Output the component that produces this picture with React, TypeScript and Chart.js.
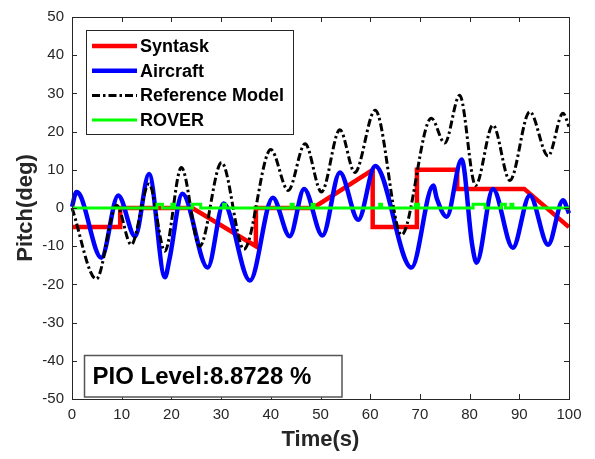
import React, { useEffect, useRef } from "react";
import { Chart, registerables } from "chart.js";

Chart.register(...registerables);

const FONT = "'Liberation Sans', Arial, Helvetica, sans-serif";

// Axis ticks
const xTicks = [0, 10, 20, 30, 40, 50, 60, 70, 80, 90, 100];
const yTicks = [-50, -40, -30, -20, -10, 0, 10, 20, 30, 40, 50];

// Syntask (red)
const syntaskTime = [0, 9.7, 9.7, 24.2, 37, 37, 48.5, 60.5, 60.5, 69.4, 69.4, 77.5, 77.5, 91, 100];
const syntaskPitch = [-5, -5, 0, 0, -10, 0, 0, 10, -5, -5, 10, 10, 5, 5, -5];

// Aircraft (blue)
const aircraftTime = [0, 0.9, 1.7, 5.9, 9.3, 12.7, 15.5, 18.7, 19.6, 22.2, 27.3, 30.5, 35.8, 40.4, 43.8, 46.7, 50.4, 53.9, 57.6, 61, 68.3, 72.7, 73.4, 75.4, 78.4, 80.5, 81.4, 84.7, 88.7, 92.1, 95.8, 98.8, 100];
const aircraftPitch = [0.3, 4.2, 3.2, -13, 3.3, -7.4, 8.9, -18.1, -13.5, 3.7, -15.6, 1.2, -19, 2.7, -7.4, 5, -7.2, 9.3, -3.1, 11, -15.6, 5.9, 2.5, -2.3, 12.7, -9.5, -14.3, 5, -10.4, 3.3, -9.6, 2, -1.4];

// Reference Model (black dash-dot)
const referenceTime = [0, 4.9, 9, 11.9, 15.5, 18.7, 22, 25.7, 30.1, 34.6, 40, 43.5, 46.9, 50.2, 53.9, 56.9, 61, 66.3, 72.3, 75, 78, 81.2, 84.7, 88.1, 92.1, 95.8, 98.8, 100];
const referencePitch = [0, -18.6, 0.7, -9.6, 6.3, -11.3, 10.6, -10, 11.9, -10.8, 15.3, 4.6, 16.8, 4.2, 20.5, 9.3, 25.6, -7, 23.5, 17, 29.5, 5.9, 21.7, 7.2, 25.2, 13.6, 24.8, 21.3];

// ROVER (green)
const roverTime = [0, 17.1, 17.1, 18.2, 18.2, 20.1, 20.1, 20.6, 20.6, 24.2, 24.2, 25.9, 25.9, 30.5, 30.5, 30.9, 30.9, 44.1, 44.1, 44.5, 44.5, 48.3, 48.3, 48.7, 48.7, 61.9, 61.9, 62.3, 62.3, 69.1, 69.1, 69.7, 69.7, 80.7, 80.7, 83.1, 83.1, 86.4, 86.4, 87.2, 87.2, 88.3, 88.3, 88.7, 88.7, 100];
const roverPitch = [0, 0, 1, 1, 0, 0, 1, 1, 0, 0, 1, 1, 0, 0, 1, 1, 0, 0, 1, 1, 0, 0, 1, 1, 0, 0, 1, 1, 0, 0, 1, 1, 0, 0, 1, 1, 0, 0, 1, 1, 0, 0, 1, 1, 0, 0];

const pioText = "PIO Level:8.8728 %";

function toPoints(t: number[], v: number[]) {
  return t.map((x, i) => ({ x, y: v[i] }));
}

const frameAndTicks = {
  id: "frameAndTicks",
  afterDatasetsDraw(chart: any) {
    const { ctx, chartArea: a, scales } = chart;
    const xs = scales.x;
    const ys = scales.y;
    const L = 5;
    ctx.save();
    ctx.strokeStyle = "#262626";
    ctx.lineWidth = 1;
    ctx.setLineDash([]);
    ctx.beginPath();
    xTicks.forEach((v) => {
      const px = Math.round(xs.getPixelForValue(v)) + 0.5;
      ctx.moveTo(px, a.bottom);
      ctx.lineTo(px, a.bottom - L);
      ctx.moveTo(px, a.top);
      ctx.lineTo(px, a.top + L);
    });
    yTicks.forEach((v) => {
      const py = Math.round(ys.getPixelForValue(v)) + 0.5;
      ctx.moveTo(a.left, py);
      ctx.lineTo(a.left + L, py);
      ctx.moveTo(a.right, py);
      ctx.lineTo(a.right - L, py);
    });
    ctx.stroke();
    ctx.strokeRect(Math.round(a.left) + 0.5, Math.round(a.top) + 0.5, Math.round(a.right - a.left), Math.round(a.bottom - a.top));
    ctx.restore();
  },
};

const boxedLegend = {
  id: "boxedLegend",
  afterDraw(chart: any) {
    const { ctx, chartArea: a } = chart;
    const bx = a.left + 14;
    const by = a.top + 13;
    const bw = 207;
    const bh = 104;
    ctx.save();
    ctx.fillStyle = "#ffffff";
    ctx.fillRect(bx, by, bw, bh);
    ctx.strokeStyle = "#262626";
    ctx.lineWidth = 1;
    ctx.strokeRect(bx + 0.5, by + 0.5, bw, bh);
    ctx.font = `bold 18px ${FONT}`;
    ctx.textBaseline = "middle";
    ctx.textAlign = "left";
    chart.data.datasets.forEach((ds: any, i: number) => {
      const y = by + 16 + i * 24.7;
      ctx.beginPath();
      ctx.strokeStyle = ds.borderColor;
      ctx.lineWidth = ds.borderWidth;
      ctx.setLineDash(ds.borderDash || []);
      ctx.moveTo(bx + 6, y);
      ctx.lineTo(bx + 51, y);
      ctx.stroke();
      ctx.setLineDash([]);
      ctx.fillStyle = "#000000";
      ctx.fillText(ds.label, bx + 54, y + 1);
    });
    ctx.restore();
  },
};

const pioBox = {
  id: "pioBox",
  afterDraw(chart: any) {
    const { ctx, chartArea: a } = chart;
    const bx = a.left + 12.5;
    const by = a.bottom - 43.5;
    const bw = 257.5;
    const bh = 41.5;
    ctx.save();
    ctx.fillStyle = "#ffffff";
    ctx.fillRect(bx, by, bw, bh);
    ctx.strokeStyle = "#555555";
    ctx.lineWidth = 1.5;
    ctx.strokeRect(bx, by, bw, bh);
    ctx.font = `bold 24px ${FONT}`;
    ctx.fillStyle = "#000000";
    ctx.textBaseline = "middle";
    ctx.textAlign = "left";
    ctx.fillText(pioText, bx + 8, by + bh / 2 + 1);
    ctx.restore();
  },
};

export default function App() {
  const canvasRef = useRef<HTMLCanvasElement | null>(null);

  useEffect(() => {
    const canvas = canvasRef.current;
    if (!canvas) return;
    const chart = new Chart(canvas, {
      type: "line",
      data: {
        datasets: [
          {
            label: "Syntask",
            data: toPoints(syntaskTime, syntaskPitch),
            borderColor: "#ff0000",
            borderWidth: 4.5,
            pointRadius: 0,
            tension: 0,
            order: 3,
            clip: 2,
          },
          {
            label: "Aircraft",
            data: toPoints(aircraftTime, aircraftPitch),
            borderColor: "#0000ff",
            borderWidth: 4.5,
            pointRadius: 0,
            cubicInterpolationMode: "monotone",
            order: 2,
            clip: 2,
          },
          {
            label: "Reference Model",
            data: toPoints(referenceTime, referencePitch),
            borderColor: "#000000",
            borderWidth: 3,
            borderDash: [8, 3, 2.5, 3],
            pointRadius: 0,
            cubicInterpolationMode: "monotone",
            order: 1,
            clip: 2,
          },
          {
            label: "ROVER",
            data: toPoints(roverTime, roverPitch),
            borderColor: "#00ff00",
            borderWidth: 3,
            pointRadius: 0,
            tension: 0,
            order: 0,
            clip: 2,
          },
        ],
      } as any,
      options: {
        animation: false,
        responsive: false,
        devicePixelRatio: 1,
        parsing: true,
        layout: { padding: { left: 0, top: 11, right: 26, bottom: 0 } },
        plugins: {
          legend: { display: false },
          tooltip: { enabled: false },
        },
        scales: {
          x: {
            type: "linear",
            min: 0,
            max: 100,
            afterFit: (s: any) => {
              s.height = 60;
            },
            afterBuildTicks: (s: any) => {
              s.ticks = xTicks.map((v) => ({ value: v }));
            },
            ticks: {
              font: { family: FONT, size: 15 },
              color: "#262626",
              padding: 7,
              maxRotation: 0,
              autoSkip: false,
            },
            grid: { display: false, drawTicks: false },
            border: { display: false },
            title: {
              display: true,
              text: "Time(s)",
              font: { family: FONT, size: 22, weight: "bold" },
              color: "#262626",
              padding: { top: 0, bottom: 6 },
            },
          },
          y: {
            type: "linear",
            min: -50,
            max: 50,
            afterFit: (s: any) => {
              s.width = 72;
            },
            afterBuildTicks: (s: any) => {
              s.ticks = yTicks.map((v) => ({ value: v }));
            },
            ticks: {
              font: { family: FONT, size: 15 },
              color: "#262626",
              padding: 8,
              autoSkip: false,
            },
            grid: { display: false, drawTicks: false },
            border: { display: false },
            title: {
              display: true,
              text: "Pitch(deg)",
              font: { family: FONT, size: 22, weight: "bold" },
              color: "#262626",
              padding: { top: 13, bottom: 0 },
            },
          },
        },
      } as any,
      plugins: [frameAndTicks, boxedLegend, pioBox],
    });
    return () => chart.destroy();
  }, []);

  return (
    <div style={{ position: "absolute", left: 0, top: 0, width: 595, height: 459, background: "#ffffff" }}>
      <canvas ref={canvasRef} width={595} height={459} style={{ display: "block" }} />
    </div>
  );
}
